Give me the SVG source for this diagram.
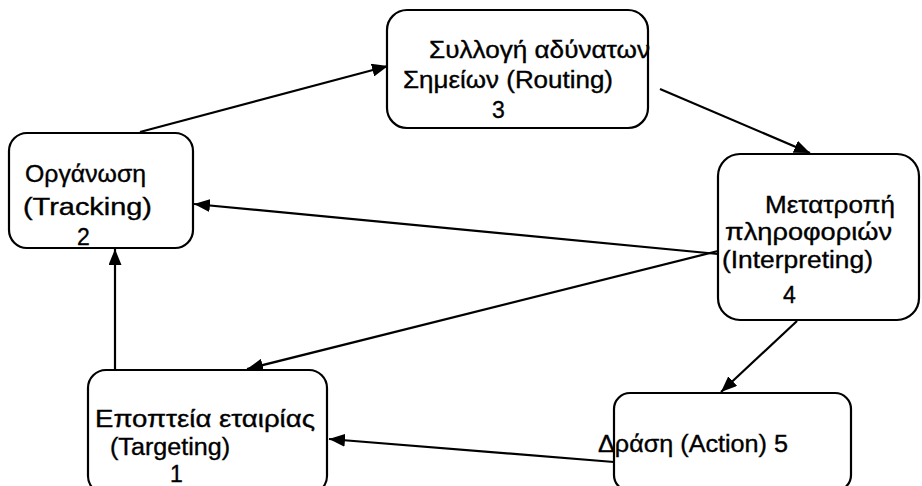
<svg xmlns="http://www.w3.org/2000/svg" width="922" height="486" viewBox="0 0 922 486">
  <defs>
    <marker id="arrow" markerUnits="userSpaceOnUse" markerWidth="17" markerHeight="13" refX="16" refY="6.5" orient="auto">
      <path d="M0,0 L16,6.5 L0,13 z" fill="#000"/>
    </marker>
    <style>
      .box { fill: #fff; stroke: #000; stroke-width: 2.2; }
      .lbl { font-family: "Liberation Sans", Arial, sans-serif; font-size: 23px; fill: #000; stroke: #000; stroke-width: 0.35; }
      .edge { fill: none; stroke: #000; stroke-width: 2.2; marker-end: url(#arrow); }
    </style>
  </defs>
  <rect width="922" height="486" fill="#fff"/>

  <!-- connectors -->
  <g id="connectors">
    <path class="edge" d="M140,132 L388,66"/>
    <path class="edge" d="M660,89 L810,153"/>
    <path class="edge" d="M718,254 L194,204"/>
    <path class="edge" d="M718,251 L247,369"/>
    <path class="edge" d="M797,321 L721,392"/>
    <path class="edge" d="M614,462 L329,439"/>
    <path class="edge" d="M115,370 L115,249"/>
  </g>

  <!-- 3: routing -->
  <g id="node-routing">
    <rect class="box" x="387" y="10" width="261" height="118" rx="20"/>
    <text class="lbl" x="429" y="58" font-size="22" textLength="221" lengthAdjust="spacingAndGlyphs">Συλλογή αδύνατων</text>
    <text class="lbl" x="403" y="88" font-size="22" textLength="210" lengthAdjust="spacingAndGlyphs">Σημείων (Routing)</text>
    <text class="lbl" x="492" y="118" font-size="22">3</text>
  </g>

  <!-- 2: tracking -->
  <g id="node-tracking">
    <rect class="box" x="9" y="133" width="184" height="115" rx="18"/>
    <text class="lbl" x="25" y="182" font-size="25" textLength="121" lengthAdjust="spacingAndGlyphs">Οργάνωση</text>
    <text class="lbl" x="23" y="215" font-size="25" textLength="129" lengthAdjust="spacingAndGlyphs">(Tracking)</text>
    <text class="lbl" x="77" y="245" font-size="25">2</text>
  </g>

  <!-- 4: interpreting -->
  <g id="node-interpreting">
    <rect class="box" x="718" y="154" width="201" height="166" rx="22"/>
    <text class="lbl" x="765" y="213" textLength="130" lengthAdjust="spacingAndGlyphs">Μετατροπή</text>
    <text class="lbl" x="725" y="240" textLength="167" lengthAdjust="spacingAndGlyphs">πληροφοριών</text>
    <text class="lbl" x="722" y="268" textLength="151" lengthAdjust="spacingAndGlyphs">(Interpreting)</text>
    <text class="lbl" x="783" y="303">4</text>
  </g>

  <!-- 1: targeting -->
  <g id="node-targeting">
    <rect class="box" x="88" y="370" width="239" height="124" rx="18"/>
    <text class="lbl" x="95" y="427" font-size="24" textLength="220" lengthAdjust="spacingAndGlyphs">Εποπτεία εταιρίας</text>
    <text class="lbl" x="110" y="455" font-size="24" textLength="120" lengthAdjust="spacingAndGlyphs">(Targeting)</text>
    <text class="lbl" x="170" y="482" font-size="24">1</text>
  </g>

  <!-- 5: action -->
  <g id="node-action">
    <rect class="box" x="614" y="393" width="237" height="98" rx="16"/>
    <text class="lbl" x="598" y="452" textLength="190" lengthAdjust="spacingAndGlyphs">Δράση (Action) 5</text>
  </g>
</svg>
